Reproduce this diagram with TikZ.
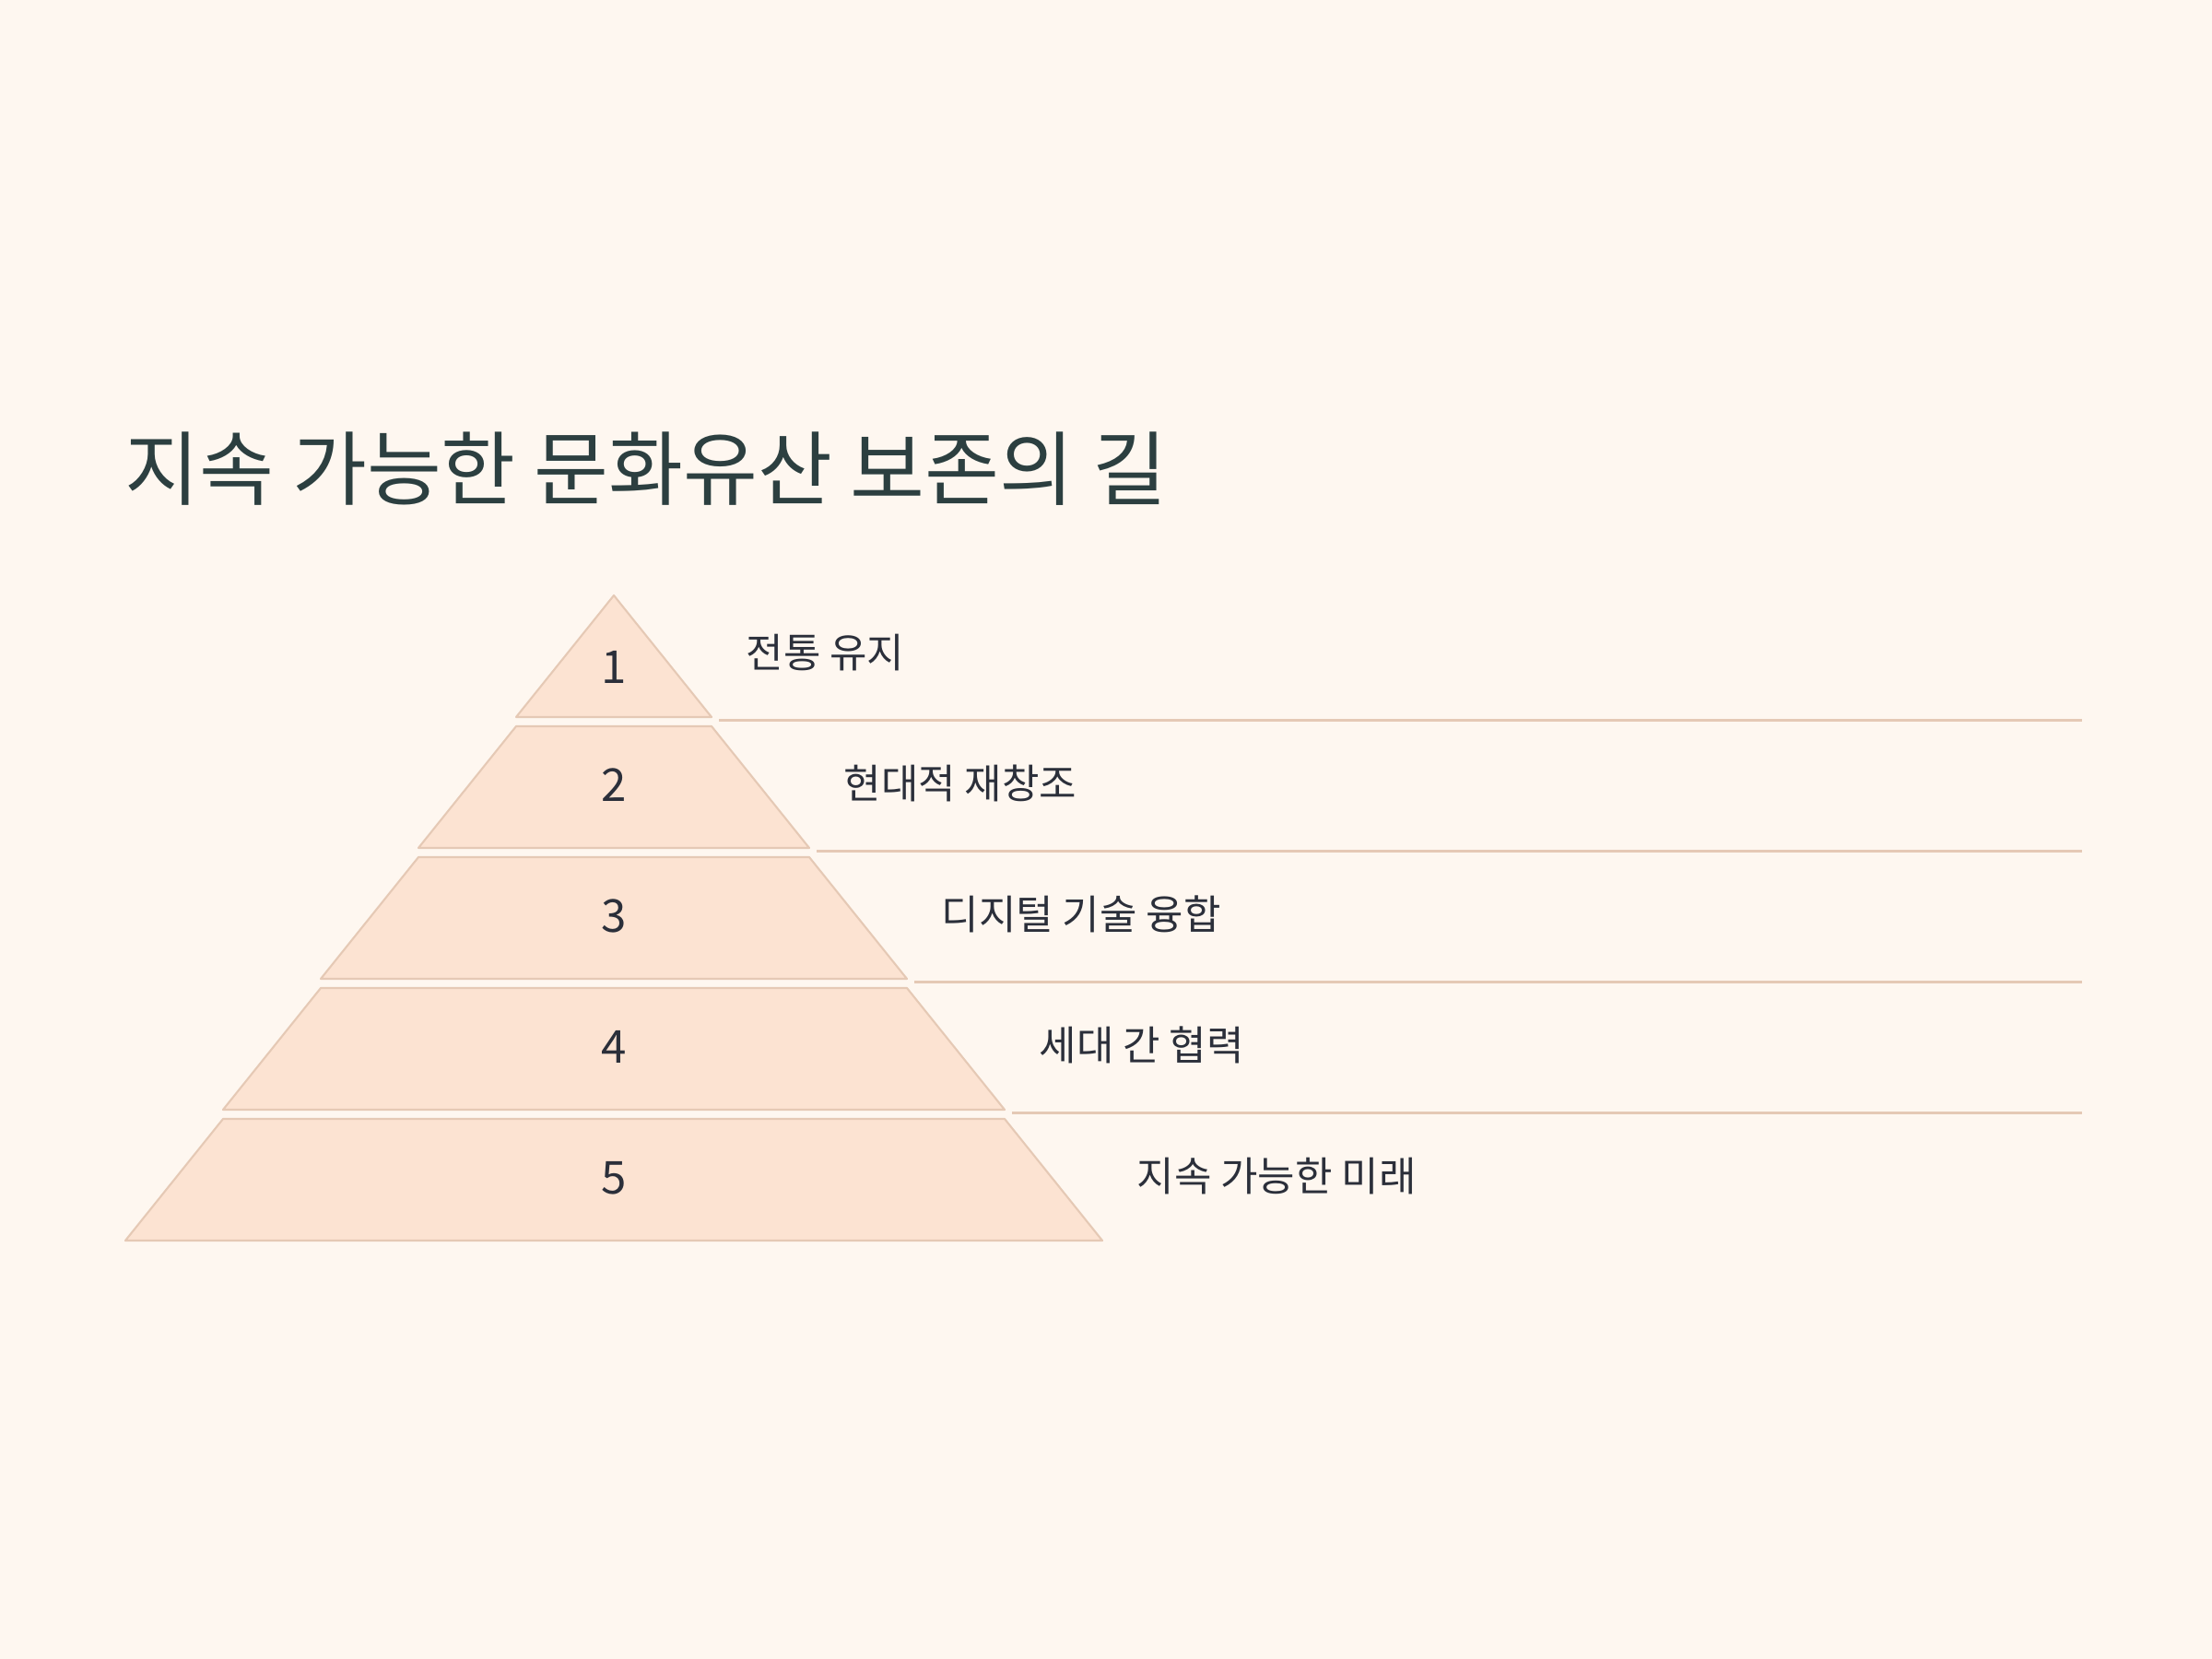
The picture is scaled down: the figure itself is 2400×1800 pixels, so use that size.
\documentclass[tikz,border=0pt]{standalone}
\usepackage{fontspec}
\setmainfont{Noto Sans CJK KR}
\definecolor{bgcol}{HTML}{FEF7F0}
\definecolor{levelfill}{HTML}{FCE3D2}
\definecolor{levelline}{HTML}{E5C9B5}
\definecolor{titlecol}{HTML}{2C3F40}
\definecolor{textcol}{HTML}{2B2F3A}
\tikzset{
  level/.style={fill=levelfill, draw=levelline, line width=0.6pt, line join=round},
  sep/.style={draw=levelline, line width=0.6pt},
  num/.style={text=textcol, font=\fontsize{14}{16}\selectfont},
  lbl/.style={anchor=west, inner sep=0pt, text=textcol, font=\fontsize{12.5}{15}\selectfont},
}
\begin{document}
\begin{tikzpicture}[x=0.01cm, y=-0.01cm]

        % 배경
        \fill[bgcol] (0,0) rectangle (2400,1800);
        \useasboundingbox (0,0) rectangle (2400,1800);

        % 크기
        \def\cx{666}    % 피라미드 중심
        \def\Ytop{646}  % 꼭짓점
        \def\Xend{2259} % 구분선 끝

        % 제목
        \node[anchor=base west, inner sep=0pt, text=titlecol, font=\fontsize{25}{29}\selectfont]
          (title) at (135,541) {지속 가능한 문화유산 보존의 길};

        \coordinate (e) at (\Xend,0);

        % 단계
        \foreach \i/\txt in {1/전통 유지, 2/현대적 재창조, 3/디지털 기술 융합, 4/세대 간 협력, 5/지속 가능한 미래} {
          \pgfmathsetmacro\ya{\Ytop+142*(\i-1)}
          \pgfmathsetmacro\yb{\ya+132}
          \pgfmathsetmacro\wa{106*(\i-1)}
          \pgfmathsetmacro\wb{106*\i}
          \pgfmathsetmacro\yn{\i==1 ? \ya+78 : \ya+64}
          \draw[level] (\cx-\wa,\ya) -- (\cx+\wa,\ya) -- (\cx+\wb,\yb) -- (\cx-\wb,\yb) -- cycle;
          \node[num] (n\i) at (\cx,\yn) {\i};
          \node[lbl] (t\i) at (\cx+\wb+37,\ya+62) {\txt};
          \coordinate (c\i) at (\cx+\wb+8,\yb+3.5);
        }

        % 구분선
        \foreach \i in {1,...,4} {
          \draw[sep] (c\i) -- (c\i -| e);
        }

\end{tikzpicture}
\end{document}
